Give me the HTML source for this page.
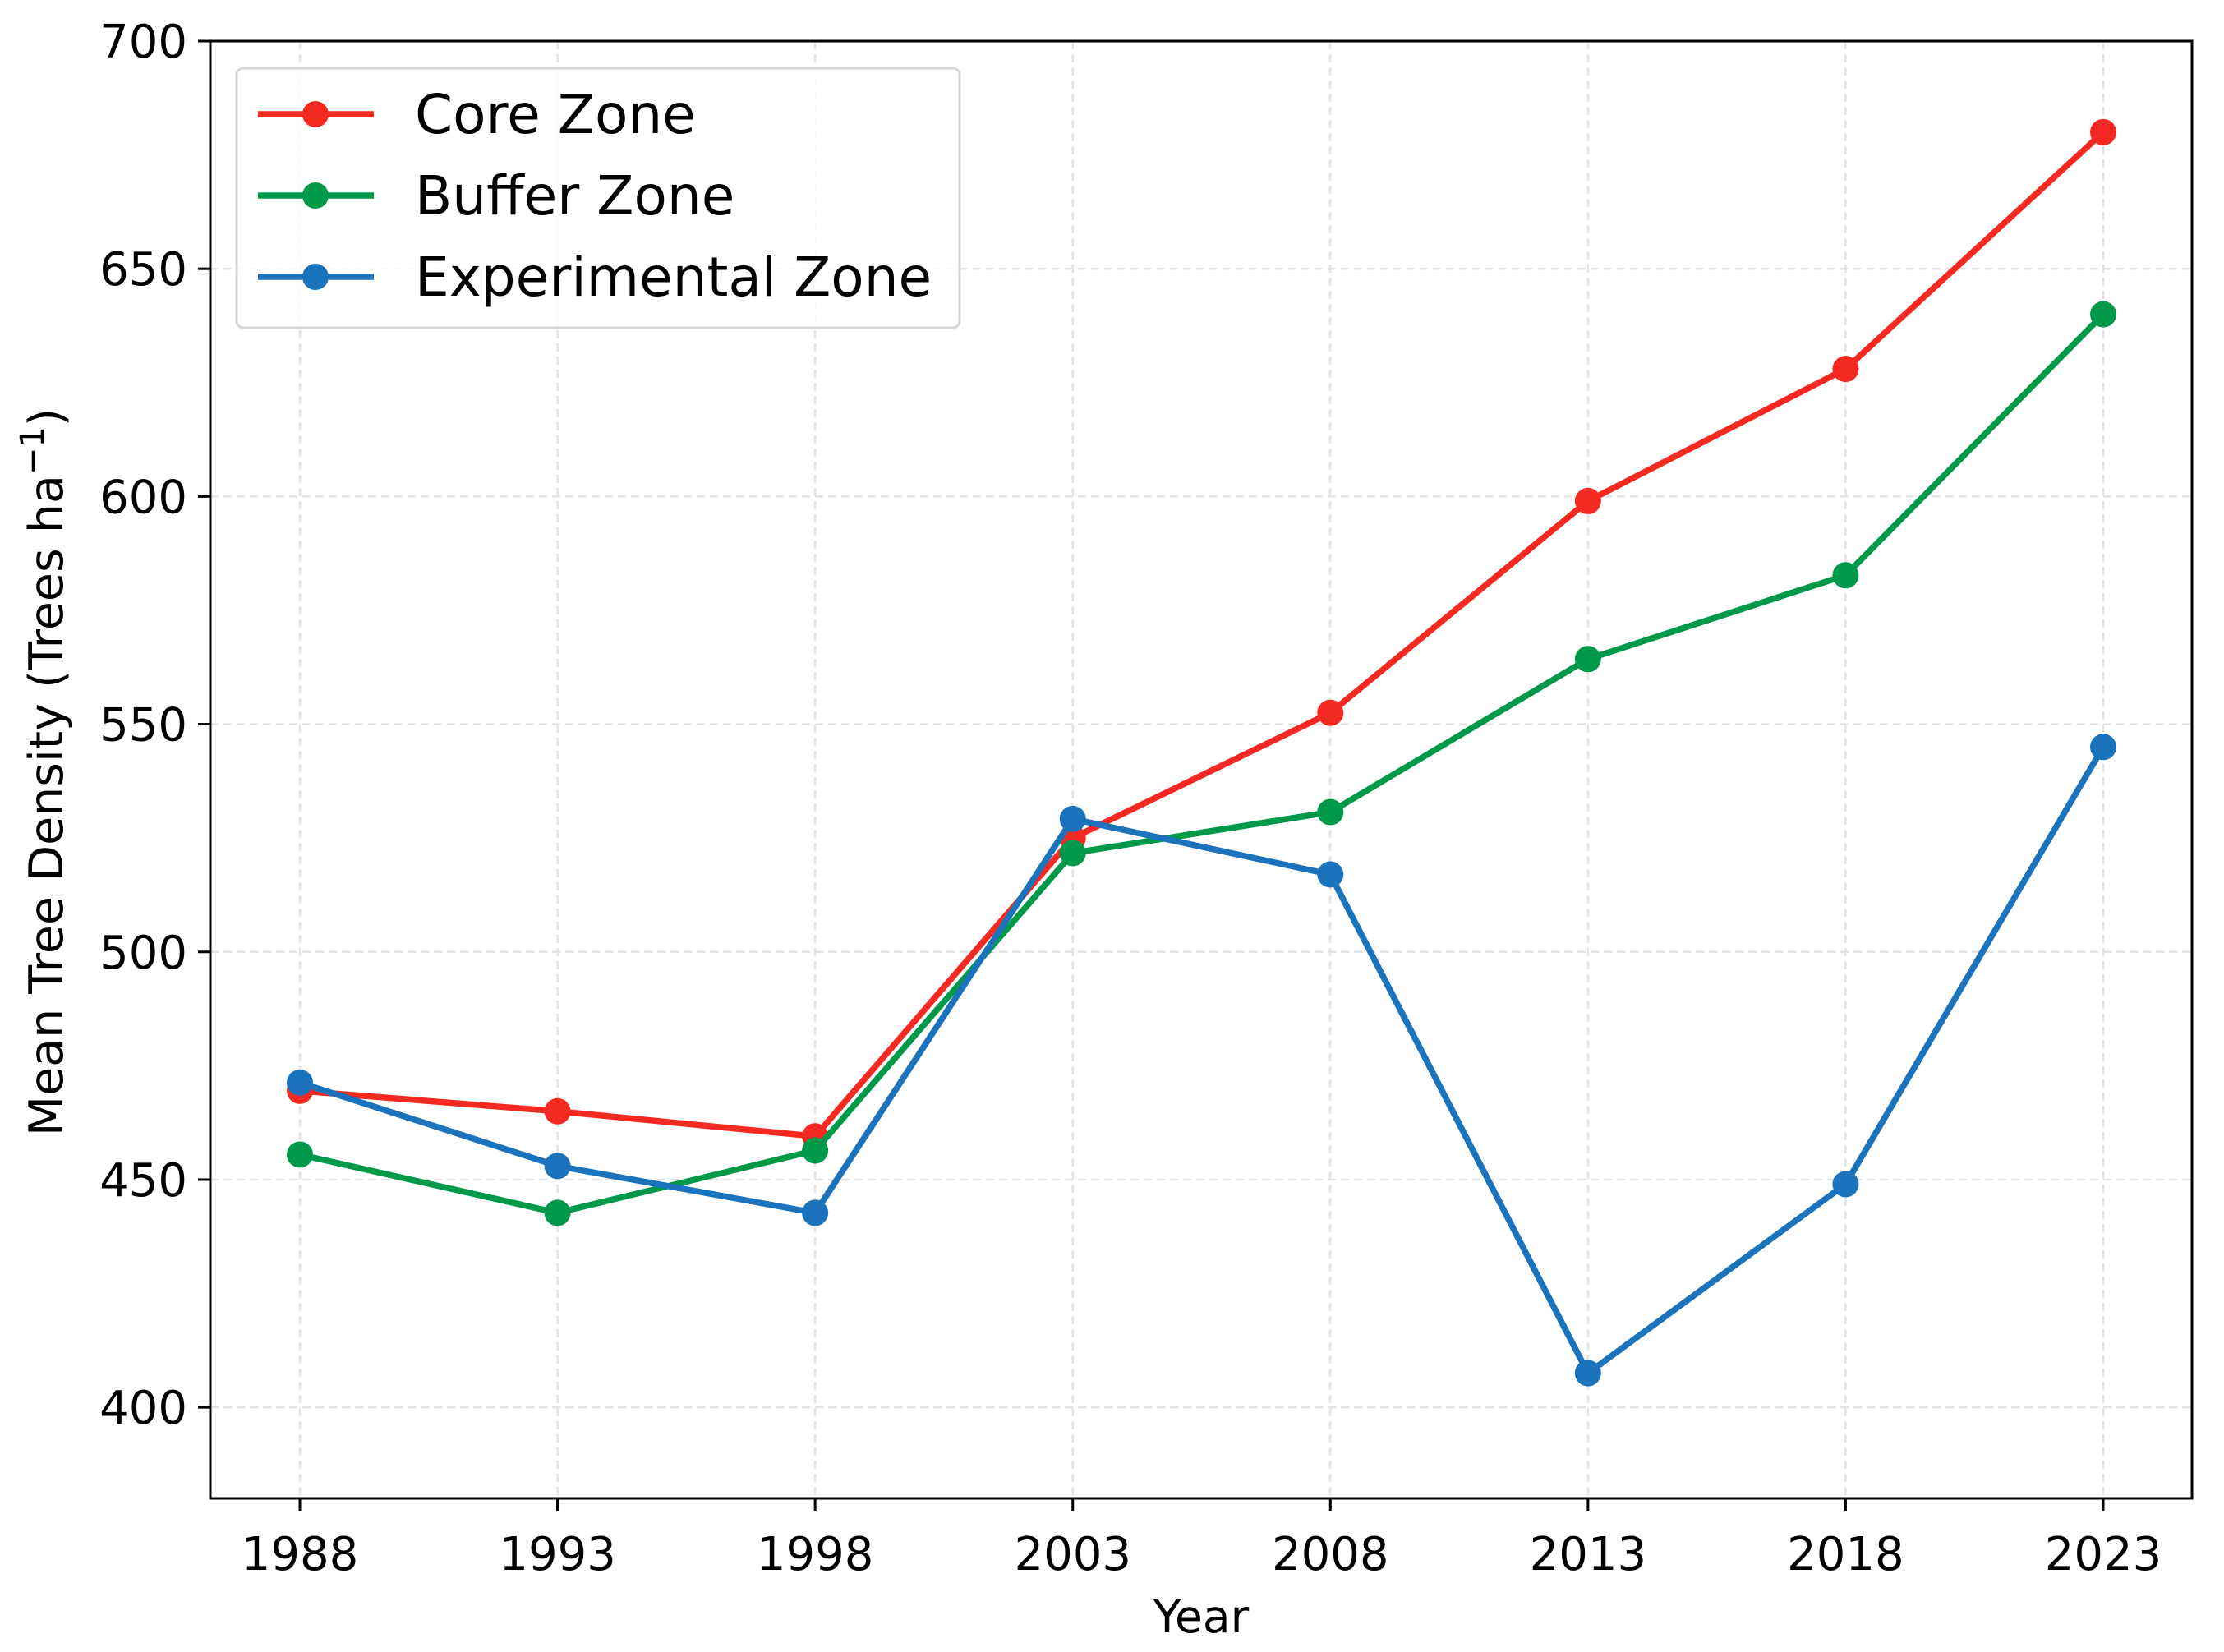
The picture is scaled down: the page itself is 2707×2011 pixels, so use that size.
<!DOCTYPE html>
<html><head><meta charset="utf-8"><style>
body{margin:0;background:#fff;}
svg{display:block;font-family:"DejaVu Sans","Liberation Sans",sans-serif;}
</style></head><body>
<svg id="chart" width="2707" height="2011" viewBox="0 0 2707 2011" xmlns="http://www.w3.org/2000/svg">
<rect width="2707" height="2011" fill="#fff"/>
<g id="grid"></g>
<g id="series"></g>
<rect x="256" y="50" width="2412" height="1774" fill="none" stroke="#000" stroke-width="3"/>
<g id="ticks"></g>
<text x="1462" y="1987" font-size="55" text-anchor="middle">Year</text>
<text transform="translate(76,940) rotate(-90)" font-size="57" text-anchor="middle">Mean Tree Density (Trees ha<tspan dy="-23" font-size="40">−1</tspan><tspan dy="23">)</tspan></text>
<g id="legend">
<rect x="288" y="83" width="880" height="316" rx="8" fill="#fff" fill-opacity="0.8" stroke="#d6d6d6" stroke-width="3"/>
</g>
</svg>
<script>
const years=[1988,1993,1998,2003,2008,2013,2018,2023];
const coreValues=[469.5,465,459.5,525,552.5,599,628,680];
const bufferValues=[455.5,442.7,456.4,521.7,530.7,564.3,582.7,640];
const expValues=[471.3,453,442.7,529.2,517,407.5,449,545];
const yTicks=[400,450,500,550,600,650,700];
const seriesNames=['Core Zone','Buffer Zone','Experimental Zone'];
const seriesColors=['#f42a22','#00994a','#1a73bb'];
const NS='http://www.w3.org/2000/svg';
const X0=256,X1=2668,Y0=50,Y1=1824,YMIN=380,YMAX=700;
function xs(y){return 365+(y-1988)*(2560-365)/35;}
function ys(v){return Y0+(YMAX-v)*(Y1-Y0)/(YMAX-YMIN);}
function mk(t,a,p){const e=document.createElementNS(NS,t);for(const k in a)e.setAttribute(k,a[k]);p.appendChild(e);return e;}
const grid=document.getElementById('grid'),ticks=document.getElementById('ticks'),ser=document.getElementById('series'),leg=document.getElementById('legend');
years.forEach(y=>{
 const g=mk('line',{x1:xs(y),x2:xs(y),y1:Y0,y2:Y1,stroke:'#e3e3e3','stroke-width':2.5,'stroke-dasharray':'10,6'},grid);
 
 
 const t=mk('line',{x1:xs(y),x2:xs(y),y1:Y1,y2:Y1+15,stroke:'#000','stroke-width':3},ticks);
 
 
 const l=mk('text',{x:xs(y),y:1911,'font-size':56,'text-anchor':'middle'},ticks);l.textContent=y;
 
 
});
yTicks.forEach(v=>{
 const g=mk('line',{x1:X0,x2:X1,y1:ys(v),y2:ys(v),stroke:'#e3e3e3','stroke-width':2.5,'stroke-dasharray':'10,6'},grid);
 
 
 const t=mk('line',{x1:X0-15,x2:X0,y1:ys(v),y2:ys(v),stroke:'#000','stroke-width':3},ticks);
 
 
 const l=mk('text',{x:X0-28,y:ys(v)+20,'font-size':56,'text-anchor':'end'},ticks);l.textContent=v;
 
 
});
[coreValues,bufferValues,expValues].forEach((vals,i)=>{
 const p=mk('polyline',{points:vals.map((v,j)=>xs(years[j])+','+ys(v)).join(' '),fill:'none',stroke:seriesColors[i],'stroke-width':7.5,'stroke-linejoin':'round'},ser);
 
 
 vals.forEach((v,j)=>{
  const c=mk('circle',{cx:xs(years[j]),cy:ys(v),r:16,fill:seriesColors[i]},ser);
  
  
 });
 const ly=139+i*99;
 const ll=mk('line',{x1:314,x2:455,y1:ly,y2:ly,stroke:seriesColors[i],'stroke-width':7.5},leg);
 
 
 const lc=mk('circle',{cx:384,cy:ly,r:16,fill:seriesColors[i]},leg);
 
 
 const lt=mk('text',{x:505,y:ly+23,'font-size':66},leg);lt.textContent=seriesNames[i];
 
 
});
</script>
</body></html>
